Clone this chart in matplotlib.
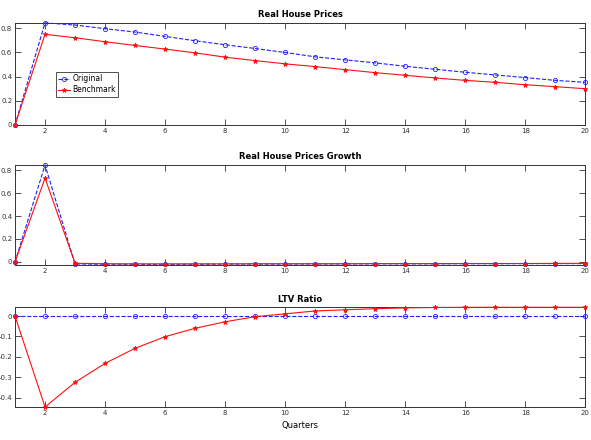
import matplotlib
matplotlib.use("Agg")
import matplotlib.pyplot as plt
import numpy as np

quarters = list(range(1, 21))

price_original = [0.0, 0.845, 0.827, 0.797, 0.769, 0.733, 0.697, 0.664, 0.633, 0.600,
                  0.564, 0.539, 0.514, 0.486, 0.461, 0.436, 0.414, 0.392, 0.369, 0.353]
price_benchmark = [0.0, 0.750, 0.722, 0.689, 0.658, 0.628, 0.597, 0.561, 0.533, 0.506,
                   0.483, 0.458, 0.433, 0.411, 0.389, 0.369, 0.353, 0.333, 0.317, 0.300]

growth_original = [0.0, 0.845, -0.018, -0.020, -0.020, -0.021, -0.020, -0.019, -0.019, -0.019,
                   -0.018, -0.018, -0.017, -0.017, -0.017, -0.016, -0.016, -0.015, -0.015, -0.015]
growth_benchmark = [0.0, 0.730, -0.012, -0.016, -0.017, -0.017, -0.017, -0.017, -0.016, -0.016,
                    -0.016, -0.016, -0.015, -0.015, -0.015, -0.014, -0.014, -0.014, -0.013, -0.013]

ltv_original = [0.0] * 20
ltv_benchmark = [0.0, -0.446, -0.325, -0.232, -0.158, -0.101, -0.060, -0.028, -0.003, 0.011,
                 0.025, 0.031, 0.036, 0.040, 0.042, 0.043, 0.043, 0.043, 0.043, 0.043]

titles = ["Real House Prices", "Real House Prices Growth", "LTV Ratio"]
series_labels = ["Original", "Benchmark"]
xticks = list(range(2, 21, 2))

fig = plt.figure(figsize=(5.91, 4.40), dpi=100)
L, W = 0.0254, 0.965
rects = [[L, 0.716, W, 0.232], [L, 0.398, W, 0.227], [L, 0.075, W, 0.2266]]
data = [(price_original, price_benchmark, (0, 0.845), [0, 0.2, 0.4, 0.6, 0.8]),
        (growth_original, growth_benchmark, (-0.026, 0.845), [0, 0.2, 0.4, 0.6, 0.8]),
        (ltv_original, ltv_benchmark, (-0.446, 0.043), [-0.4, -0.3, -0.2, -0.1, 0])]

axes = []
for r, (orig, bench, ylim, yt), title in zip(rects, data, titles):
    ax = fig.add_axes(r)
    ax.plot(quarters, orig, color="#2020ff", linestyle="--", marker="o", markersize=3,
            markerfacecolor="none", linewidth=0.8, markeredgewidth=0.6,
            label=series_labels[0], clip_on=False, zorder=3)
    ax.plot(quarters, bench, color="#ff1010", linestyle="-", marker="*", markersize=3.5,
            linewidth=0.8, markeredgewidth=0.6, label=series_labels[1],
            clip_on=False, zorder=3)
    ax.set_xlim(1, 20)
    ax.set_ylim(*ylim)
    ax.set_xticks(xticks)
    ax.set_yticks(yt)
    ax.set_yticklabels([("%g" % v) for v in yt])
    ax.tick_params(direction="in", top=True, right=True, labelsize=5, length=4,
                   width=0.6, pad=2, colors="#333333")
    for s in ax.spines.values():
        s.set_linewidth(0.7)
        s.set_color("#333333")
    ax.set_title(title, fontsize=6, fontweight="bold", pad=4)
    axes.append(ax)

leg = axes[0].legend(loc="upper left", bbox_to_anchor=(0.071, 0.517), fontsize=5.5,
                     frameon=True, fancybox=False, edgecolor="#333333", framealpha=1,
                     handlelength=1.6, borderpad=0.3, labelspacing=0.25,
                     handletextpad=0.3, borderaxespad=0)
leg.get_frame().set_linewidth(0.6)
axes[2].set_xlabel("Quarters", fontsize=6, labelpad=4)

fig.savefig("out.png", dpi=100)
